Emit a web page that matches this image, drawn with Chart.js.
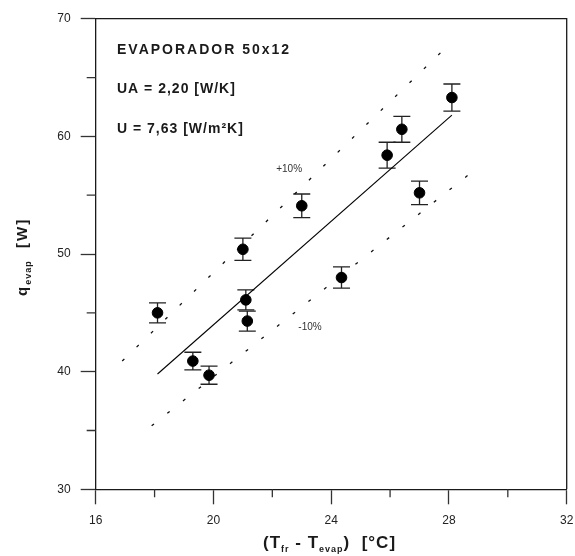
<!DOCTYPE html>
<html>
<head>
<meta charset="utf-8">
<script src="https://cdn.jsdelivr.net/npm/chart.js@4.4.1/dist/chart.umd.min.js"></script>
<style>
  html, body { margin: 0; padding: 0; background: #fff; }
</style>
</head>
<body>
<canvas id="evapChart" width="575" height="556"></canvas>
<script>
// puntos medidos (deltaT, q) y su incerteza
var deltaT = [18.1, 19.3, 19.85, 21.0, 21.1, 21.15, 23.0, 24.35, 25.9, 26.4, 27.0, 28.1];
var qEvap  = [45.0, 40.9, 39.7, 50.4, 46.1, 44.3, 54.1, 48.0, 58.4, 60.6, 55.2, 63.3];
var qErr   = [0.85, 0.75, 0.77, 0.95, 0.85, 0.85, 1.0, 0.9, 1.1, 1.1, 1.0, 1.15];

// recta UA = 2,20 y bandas +/-10%
var fitX = [18.1, 28.1];
var fitY = [39.8, 61.8];
var upX = [16.9, 28.0];
var upY = [40.9, 67.8];
var lowX = [17.9, 29.0];
var lowY = [35.4, 57.4];

var xMinor = [18, 22, 26, 30];
var yMinor = [35, 45, 55, 65];

var info = ['EVAPORADOR 50x12', 'UA = 2,20 [W/K]', 'U = 7,63 [W/m\u00B2K]'];
var bandLabels = [{t: '+10%', x: 22.57, y: 57.2}, {t: '-10%', x: 23.28, y: 43.8}];

function pts(xs, ys) {
    var out = [];
    for (var i = 0; i < xs.length; i++) out.push({x: xs[i], y: ys[i]});
    return out;
}

var ink = '#1a1a1a';

var extras = {
    beforeDatasetsDraw: function(chart) {//barras de error
        var ctx = chart.ctx;
        var xs = chart.scales.x, ys = chart.scales.y;
        ctx.save();
        ctx.strokeStyle = '#222';
        ctx.lineWidth = 1.3;
        for (var i = 0; i < deltaT.length; i++) {
            var px = xs.getPixelForValue(deltaT[i]);
            var top = ys.getPixelForValue(qEvap[i] + qErr[i]);
            var bot = ys.getPixelForValue(qEvap[i] - qErr[i]);
            ctx.beginPath();
            ctx.moveTo(px, top); ctx.lineTo(px, bot);
            ctx.moveTo(px - 8.5, top); ctx.lineTo(px + 8.5, top);
            ctx.moveTo(px - 8.5, bot); ctx.lineTo(px + 8.5, bot);
            ctx.stroke();
        }
        ctx.restore();
    },
    afterDraw: function(chart) {
        var ctx = chart.ctx;
        var a = chart.chartArea;
        var xs = chart.scales.x, ys = chart.scales.y;
        ctx.save();
        // marco arriba y derecha
        ctx.strokeStyle = ink;
        ctx.lineWidth = 1.3;
        ctx.beginPath();
        ctx.moveTo(a.left, a.top); ctx.lineTo(a.right, a.top); ctx.lineTo(a.right, a.bottom);
        ctx.stroke();
        // ticks menores
        ctx.strokeStyle = '#333';
        ctx.beginPath();
        xMinor.forEach(function(v) {
            var p = xs.getPixelForValue(v);
            ctx.moveTo(p, a.bottom); ctx.lineTo(p, a.bottom + 8);
        });
        yMinor.forEach(function(v) {
            var p = ys.getPixelForValue(v);
            ctx.moveTo(a.left, p); ctx.lineTo(a.left - 9, p);
        });
        ctx.stroke();

        // texto de la esquina
        ctx.fillStyle = ink;
        ctx.textBaseline = 'alphabetic';
        ctx.textAlign = 'left';
        ctx.font = 'bold 14px "Liberation Sans", Arial, sans-serif';
        ctx.letterSpacing = '2px';
        ctx.fillText(info[0], 117, 53.5);
        ctx.letterSpacing = '1px';
        ctx.fillText(info[1], 117, 93);
        ctx.fillText(info[2], 117, 133);

        // +10% / -10%
        ctx.letterSpacing = '0px';
        ctx.font = '10px "Liberation Sans", Arial, sans-serif';
        ctx.fillStyle = '#333';
        ctx.textAlign = 'center';
        ctx.textBaseline = 'middle';
        bandLabels.forEach(function(b) {
            ctx.fillText(b.t, xs.getPixelForValue(b.x), ys.getPixelForValue(b.y));
        });

        // titulo eje x
        ctx.fillStyle = ink;
        ctx.textAlign = 'left';
        ctx.textBaseline = 'alphabetic';
        ctx.letterSpacing = '1px';
        var big = 'bold 17px "Liberation Sans", Arial, sans-serif';
        var small = 'bold 9px "Liberation Sans", Arial, sans-serif';
        var parts = [['(T', big, 0], ['fr', small, 4], [' - T', big, 0], ['evap', small, 4], [')  [\u00B0C]', big, 0]];
        var cx = 263;
        parts.forEach(function(p) {
            ctx.font = p[1];
            ctx.fillText(p[0], cx, 548 + p[2]);
            cx += ctx.measureText(p[0]).width;
        });

        // titulo eje y
        ctx.translate(27, 296);
        ctx.rotate(-Math.PI / 2);
        var yparts = [['q', 'bold 15px "Liberation Sans", Arial, sans-serif', 0], ['evap', small, 4], ['  [W]', 'bold 15px "Liberation Sans", Arial, sans-serif', 0]];
        var cy = 0;
        yparts.forEach(function(p) {
            ctx.letterSpacing = p[0] == 'evap' ? '1px' : '2px';
            ctx.font = p[1];
            ctx.fillText(p[0], cy, p[2]);
            cy += ctx.measureText(p[0]).width;
        });
        ctx.restore();
    }
};

var tickFont = {family: '"Liberation Sans", Arial, sans-serif', size: 12};

var chart = new Chart(document.getElementById('evapChart').getContext('2d'), {
    type: 'scatter',
    data: {
        datasets: [
            {//puntos
                data: pts(deltaT, qEvap),
                backgroundColor: '#000',
                borderColor: '#000',
                pointRadius: 5.3,
                order: 0
            },
            {
                type: 'line',
                data: pts(fitX, fitY),
                borderColor: '#000',
                borderWidth: 1.1,
                pointRadius: 0,
                fill: false,
                order: 1
            },
            {
                type: 'line',
                data: pts(upX, upY),
                borderColor: '#111',
                borderWidth: 1.3,
                borderDash: [3, 17],
                pointRadius: 0,
                fill: false,
                order: 1
            },
            {
                type: 'line',
                data: pts(lowX, lowY),
                borderColor: '#111',
                borderWidth: 1.3,
                borderDash: [3, 17],
                pointRadius: 0,
                fill: false,
                order: 1
            }
        ]
    },
    options: {
        responsive: false,
        animation: false,
        layout: { padding: { left: 0, right: 8.3, top: 18.7, bottom: 0 } },
        plugins: { legend: { display: false }, tooltip: { enabled: false } },
        scales: {
            x: {
                type: 'linear',
                min: 16, max: 32,
                afterFit: function(s) { s.height = 66.7; s.paddingLeft = 0; s.paddingRight = 0; },
                border: { display: true, color: ink, width: 1.3 },
                grid: { display: true, drawOnChartArea: false, drawTicks: true, tickLength: 15, tickColor: '#333', tickWidth: 1.3 },
                ticks: { stepSize: 4, color: '#222', font: tickFont, padding: 9, maxRotation: 0 }
            },
            y: {
                type: 'linear',
                min: 30, max: 70,
                afterFit: function(s) { s.width = 95.7; s.paddingTop = 0; s.paddingBottom = 0; },
                border: { display: true, color: ink, width: 1.3 },
                grid: { display: true, drawOnChartArea: false, drawTicks: true, tickLength: 15, tickColor: '#333', tickWidth: 1.3 },
                ticks: { stepSize: 10, color: '#222', font: tickFont, padding: 10 }
            }
        }
    },
    plugins: [extras]
});
</script>
</body>
</html>
